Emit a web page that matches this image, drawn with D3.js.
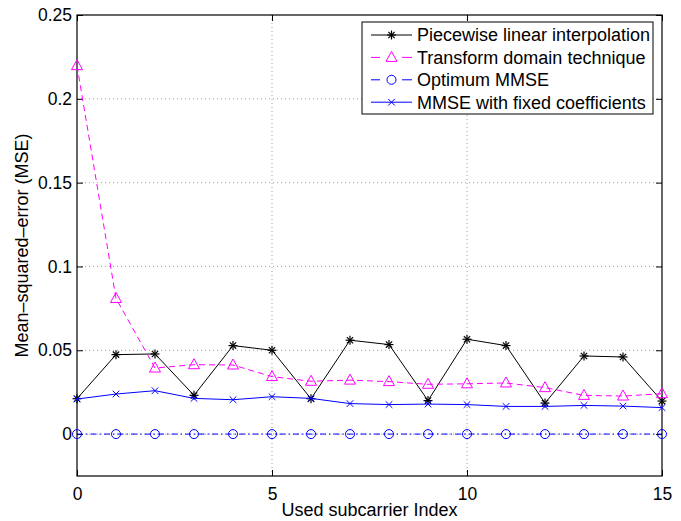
<!DOCTYPE html>
<html>
<head>
<meta charset="utf-8">
<script src="https://cdn.jsdelivr.net/npm/d3@7"></script>
<style>
  body { margin: 0; background: #fff; }
  text { font-family: "Liberation Sans", Arial, sans-serif; }
</style>
</head>
<body>
<div id="chart"></div>
<script>
// Data
const subcarriers = [0, 1, 2, 3, 4, 5, 6, 7, 8, 9, 10, 11, 12, 13, 14, 15];
const piecewise = [0.0211, 0.0474, 0.0478, 0.0231, 0.0528, 0.0500, 0.0211, 0.0560, 0.0534, 0.0200, 0.0566, 0.0528, 0.0185, 0.0466, 0.0460, 0.0197];
const transformDomain = [0.2198, 0.0809, 0.0394, 0.0414, 0.0412, 0.0343, 0.0315, 0.0322, 0.0313, 0.0297, 0.0300, 0.0305, 0.0277, 0.0231, 0.0227, 0.0241];
const optimumMmse = [0, 0, 0, 0, 0, 0, 0, 0, 0, 0, 0, 0, 0, 0, 0, 0];
const fixedMmse = [0.0209, 0.0239, 0.0259, 0.0213, 0.0205, 0.0223, 0.0213, 0.0182, 0.0176, 0.0179, 0.0176, 0.0165, 0.0165, 0.0171, 0.0167, 0.0158];
const xTicks = [0, 5, 10, 15];
const yTicks = [0, 0.05, 0.1, 0.15, 0.2, 0.25];
const seriesNames = ["Piecewise linear interpolation", "Transform domain technique", "Optimum MMSE", "MMSE with fixed coefficients"];

const series = [
  { name: seriesNames[0], values: piecewise, color: "#000000", dash: null, marker: "star" },
  { name: seriesNames[1], values: transformDomain, color: "#ff00ff", dash: "6,4", marker: "triangle" },
  { name: seriesNames[2], values: optimumMmse, color: "#0000ff", dash: "6,3,1.5,3", marker: "circle" },
  { name: seriesNames[3], values: fixedMmse, color: "#0000ff", dash: null, marker: "cross" }
];

const W = 681, H = 521;
const margin = { top: 15, right: 19, bottom: 45, left: 77 };
const width = W - margin.left - margin.right,
      height = H - margin.top - margin.bottom;

const svg = d3.select("#chart")
  .append("svg")
  .attr("width", W)
  .attr("height", H);

const g = svg.append("g")
  .attr("transform", `translate(${margin.left},${margin.top})`);

const x = d3.scaleLinear().domain([0, 15]).range([0, width]);
const y = d3.scaleLinear().domain([-0.025, 0.25]).range([height, 0]);

// Grid lines (dotted)
g.selectAll(".gx")
  .data(xTicks.filter(d => d > 0 && d < 15))
  .enter().append("line")
  .attr("x1", d => x(d)).attr("x2", d => x(d))
  .attr("y1", 0).attr("y2", height)
  .attr("stroke", "#888").attr("stroke-width", 0.8)
  .attr("stroke-dasharray", "1,3");

g.selectAll(".gy")
  .data(yTicks.filter(d => d < 0.25))
  .enter().append("line")
  .attr("x1", 0).attr("x2", width)
  .attr("y1", d => y(d)).attr("y2", d => y(d))
  .attr("stroke", "#888").attr("stroke-width", 0.8)
  .attr("stroke-dasharray", "1,3");

// Axes with inward ticks
const tickLen = 6;
const xAxis = g.append("g")
  .attr("transform", `translate(0,${height})`)
  .call(d3.axisBottom(x).tickValues(xTicks).tickSize(-tickLen).tickPadding(12).tickFormat(d3.format("d")));
const yAxis = g.append("g")
  .call(d3.axisLeft(y).tickValues(yTicks).tickSize(-tickLen).tickPadding(5).tickFormat(d => d === 0 ? "0" : String(d)));
g.append("g")
  .attr("transform", `translate(${width},0)`)
  .call(d3.axisRight(y).tickValues(yTicks).tickSize(-tickLen).tickFormat(""));
g.append("g")
  .call(d3.axisTop(x).tickValues(xTicks).tickSize(-tickLen).tickFormat(""));

g.selectAll(".domain").remove();
g.selectAll(".tick line").attr("stroke", "#000");
[xAxis, yAxis].forEach(a => a.selectAll("text")
  .style("font-size", "17.5px")
  .attr("fill", "#000"));

// Box
g.append("rect")
  .attr("width", width).attr("height", height)
  .attr("fill", "none").attr("stroke", "#000").attr("stroke-width", 1.2);

// Markers
function drawMarker(sel, type, color) {
  if (type === "star") {
    const r = 4.5;
    [[-r, 0, r, 0], [0, -r, 0, r], [-r * 0.7, -r * 0.7, r * 0.7, r * 0.7], [-r * 0.7, r * 0.7, r * 0.7, -r * 0.7]]
      .forEach(c => sel.append("line")
        .attr("x1", c[0]).attr("y1", c[1]).attr("x2", c[2]).attr("y2", c[3])
        .attr("stroke", color).attr("stroke-width", 1.2));
  } else if (type === "triangle") {
    sel.append("path")
      .attr("d", "M0,-6 L5.5,4 L-5.5,4 Z")
      .attr("fill", "none").attr("stroke", color).attr("stroke-width", 1);
  } else if (type === "circle") {
    sel.append("circle").attr("r", 4.5)
      .attr("fill", "none").attr("stroke", color).attr("stroke-width", 1);
  } else if (type === "cross") {
    const r = 3.3;
    [[-r, -r, r, r], [-r, r, r, -r]]
      .forEach(c => sel.append("line")
        .attr("x1", c[0]).attr("y1", c[1]).attr("x2", c[2]).attr("y2", c[3])
        .attr("stroke", color).attr("stroke-width", 1));
  }
}

const line = d3.line()
  .x((d, i) => x(subcarriers[i]))
  .y(d => y(d));

series.forEach(s => {
  g.append("path")
    .datum(s.values)
    .attr("d", line)
    .attr("fill", "none")
    .attr("stroke", s.color)
    .attr("stroke-width", 1)
    .attr("stroke-dasharray", s.dash);
  s.values.forEach((v, i) => {
    const m = g.append("g").attr("transform", `translate(${x(subcarriers[i])},${y(v)})`);
    drawMarker(m, s.marker, s.color);
  });
});

// Legend
const lg = svg.append("g").attr("transform", "translate(362,22)");
lg.append("rect")
  .attr("width", 291).attr("height", 92)
  .attr("fill", "#fff").attr("stroke", "#000").attr("stroke-width", 1);
series.forEach((s, i) => {
  const row = lg.append("g").attr("transform", `translate(0,${13 + i * 22.4})`);
  const segs = s.dash ? [[9, 18], [40, 50]] : [[9, 50]];
  segs.forEach(sg => row.append("line")
    .attr("x1", sg[0]).attr("x2", sg[1])
    .attr("stroke", s.color).attr("stroke-width", 1));
  drawMarker(row.append("g").attr("transform", "translate(29.5,0)"), s.marker, s.color);
  row.append("text")
    .attr("x", 55).attr("y", 0).attr("dy", "0.35em")
    .style("font-size", "18px")
    .text(s.name);
});

// Axis labels
svg.append("text")
  .attr("x", margin.left + width / 2).attr("y", 516)
  .attr("text-anchor", "middle")
  .style("font-size", "18px")
  .text("Used subcarrier Index");

svg.append("text")
  .attr("transform", `translate(28,${margin.top + height / 2}) rotate(-90)`)
  .attr("text-anchor", "middle")
  .style("font-size", "18px")
  .text("Mean–squared–error (MSE)");
</script>
</body>
</html>
